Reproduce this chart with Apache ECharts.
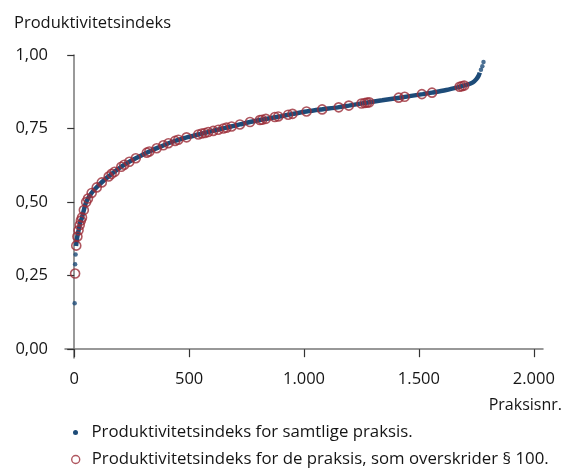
<!DOCTYPE html>
<html>
<head>
<meta charset="utf-8">
<script src="https://cdn.jsdelivr.net/npm/echarts@6/dist/echarts.min.js"></script>
<style>
  html, body { margin: 0; padding: 0; background: #fff; }
  #chart { width: 569px; height: 468px; }
</style>
</head>
<body>
<div id="chart"></div>
<script>
// 所有诊所的生产率指数（按排名）
const allStartDots = [[2, 0.156], [4, 0.289], [6, 0.322]];
const allCurve = [
  [8, 0.351], [13, 0.380], [20, 0.407], [27, 0.433], [33, 0.445], [42, 0.473],
  [52, 0.500], [74, 0.529], [100, 0.552], [132, 0.576], [161, 0.594], [197, 0.616],
  [233, 0.634], [266, 0.648], [325, 0.671], [374, 0.688], [410, 0.700], [446, 0.710],
  [490, 0.720], [562, 0.734], [620, 0.745], [678, 0.756], [721, 0.764], [765, 0.772],
  [808, 0.779], [850, 0.785], [900, 0.792], [953, 0.800], [1011, 0.808], [1076, 0.815],
  [1148, 0.822], [1195, 0.828], [1271, 0.838], [1340, 0.846], [1416, 0.855], [1517, 0.867],
  [1557, 0.872], [1619, 0.881], [1677, 0.892], [1710, 0.899], [1735, 0.907], [1750, 0.918],
  [1760, 0.930], [1765, 0.940]
];
const allEndDots = [[1770, 0.950], [1776, 0.962], [1781, 0.976]];

// 超过 § 100 的诊所
const overLimit = [
  [4, 0.257], [9, 0.352], [14, 0.383], [19, 0.404], [24, 0.422], [29, 0.437], [34, 0.448],
  [42, 0.473], [52, 0.500], [60, 0.512], [76, 0.531], [98, 0.550], [120, 0.567], [150, 0.587],
  [163, 0.596], [176, 0.603], [205, 0.620], [218, 0.627], [240, 0.637], [268, 0.649],
  [316, 0.668], [327, 0.672], [359, 0.683], [388, 0.693], [410, 0.700], [439, 0.708],
  [453, 0.712], [489, 0.720], [540, 0.730], [555, 0.733], [569, 0.735], [583, 0.738],
  [605, 0.742], [627, 0.746], [649, 0.750], [663, 0.753], [685, 0.757], [721, 0.764],
  [765, 0.772], [808, 0.779], [818, 0.780], [834, 0.783], [873, 0.789], [888, 0.791],
  [931, 0.797], [950, 0.800], [1011, 0.808], [1079, 0.815], [1151, 0.822], [1195, 0.828],
  [1250, 0.835], [1264, 0.837], [1274, 0.838], [1284, 0.839], [1412, 0.855], [1438, 0.858],
  [1513, 0.867], [1557, 0.872], [1677, 0.892], [1687, 0.894], [1697, 0.896]
];

const xTicks = [0, 500, 1000, 1500, 2000];
const yTicks = [0, 0.25, 0.5, 0.75, 1];

const legend = [
  'Produktivitetsindeks for samtlige praksis.',
  'Produktivitetsindeks for de praksis, som overskrider § 100.'
];

const BLUE = '#1d4b78';
const RED = '#9b2c37';
const FONT = 'Open Sans';
const TEXT = '#151515';

const myChart = echarts.init(document.getElementById('chart'));

const option = {
  backgroundColor: '#ffffff',
  animation: false,
  textStyle: { fontFamily: FONT },
  title: [
    {
      text: 'Produktivitetsindeks',
      left: 9,
      top: 10,
      textStyle: { fontSize: 16.5, fontWeight: 'normal', color: TEXT, fontFamily: FONT },
    },
    {
      text: 'Praksisnr.',
      right: 2,
      top: 392,
      textStyle: { fontSize: 16, fontWeight: 'normal', color: TEXT, fontFamily: FONT },
    },
  ],
  grid: { left: 65, top: 55, right: 26, bottom: 110 },
  legend: [
    {
      orient: 'vertical',
      left: 68,
      top: 419,
      itemWidth: 22,
      itemHeight: 5,
      textStyle: { fontSize: 16.8, color: TEXT, fontFamily: FONT },
      data: [{ name: legend[0], icon: 'circle', itemStyle: { color: BLUE } }],
    },
    {
      orient: 'vertical',
      left: 66,
      top: 446,
      itemWidth: 22,
      itemHeight: 8,
      textStyle: { fontSize: 16.8, color: TEXT, fontFamily: FONT },
      data: [{
        name: legend[1],
        icon: 'circle',
        itemStyle: { color: 'rgba(0,0,0,0)', borderColor: RED, borderWidth: 1.4 },
      }],
    },
  ],
  xAxis: {
    type: 'value',
    min: -40,
    max: 2040,
    axisLine: { show: true, lineStyle: { color: '#777777', width: 1.5 } },
    axisTick: {
      show: true,
      length: 8,
      customValues: xTicks,
      lineStyle: { color: '#333333', width: 1.2 },
    },
    axisLabel: {
      customValues: xTicks,
      fontSize: 16.5,
      color: TEXT,
      margin: 13,
      formatter: v => (v >= 1000 ? `${Math.floor(v / 1000)}.${String(v % 1000).padStart(3, '0')}` : String(v)),
    },
    splitLine: { show: false },
  },
  yAxis: {
    type: 'value',
    min: -0.03,
    max: 1,
    axisLine: { show: true, lineStyle: { color: '#777777', width: 1.5 } },
    axisTick: {
      show: true,
      length: 7,
      customValues: yTicks,
      lineStyle: { color: '#333333', width: 1.2 },
    },
    axisLabel: {
      customValues: yTicks,
      fontSize: 16.5,
      color: TEXT,
      margin: 17,
      formatter: v => v.toFixed(2).replace('.', ','),
    },
    splitLine: { show: false },
  },
  series: [
    {
      name: legend[0],
      type: 'line',
      data: allCurve,
      showSymbol: false,
      smooth: 0.3,
      lineStyle: { color: BLUE, width: 4.5 },
      itemStyle: { color: BLUE },
      z: 2,
    },
    {
      name: legend[0],
      type: 'scatter',
      data: allStartDots.concat(allEndDots),
      symbol: 'circle',
      symbolSize: 4.5,
      itemStyle: { color: BLUE },
      z: 2,
    },
    {
      name: legend[1],
      type: 'scatter',
      data: overLimit,
      symbol: 'circle',
      symbolSize: 9,
      itemStyle: { color: 'rgba(0,0,0,0)', borderColor: RED, borderWidth: 1.6 },
      z: 3,
    },
  ],
};

myChart.setOption(option);
</script>
</body>
</html>
